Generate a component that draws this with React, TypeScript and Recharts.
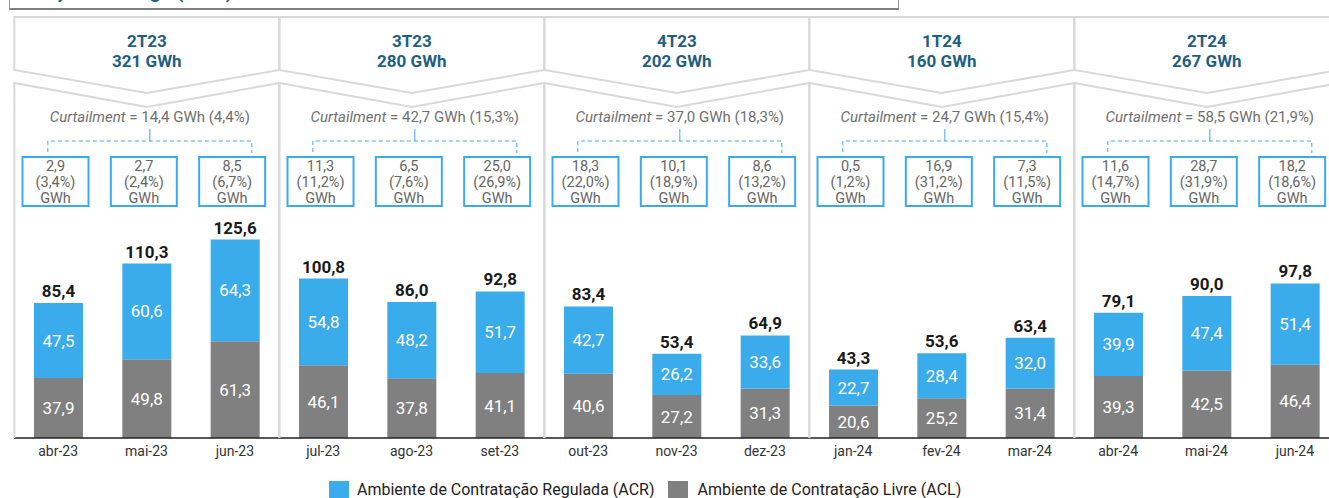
import { BarChart, Bar, XAxis, YAxis, LabelList } from 'recharts';

const months = [
  'abr-23', 'mai-23', 'jun-23', 'jul-23', 'ago-23', 'set-23', 'out-23', 'nov-23',
  'dez-23', 'jan-24', 'fev-24', 'mar-24', 'abr-24', 'mai-24', 'jun-24',
];
const acr = [47.5, 60.6, 64.3, 54.8, 48.2, 51.7, 42.7, 26.2, 33.6, 22.7, 28.4, 32.0, 39.9, 47.4, 51.4];
const acl = [37.9, 49.8, 61.3, 46.1, 37.8, 41.1, 40.6, 27.2, 31.3, 20.6, 25.2, 31.4, 39.3, 42.5, 46.4];
const totals = [85.4, 110.3, 125.6, 100.8, 86.0, 92.8, 83.4, 53.4, 64.9, 43.3, 53.6, 63.4, 79.1, 90.0, 97.8];
const curtGwh = [2.9, 2.7, 8.5, 11.3, 6.5, 25.0, 18.3, 10.1, 8.6, 0.5, 16.9, 7.3, 11.6, 28.7, 18.2];
const curtPct = [3.4, 2.4, 6.7, 11.2, 7.6, 26.9, 22.0, 18.9, 13.2, 1.2, 31.2, 11.5, 14.7, 31.9, 18.6];

const quarters = ['2T23', '3T23', '4T23', '1T24', '2T24'];
const quarterGwh = [321, 280, 202, 160, 267];
const quarterCurt = [14.4, 42.7, 37.0, 24.7, 58.5];
const quarterCurtPct = [4.4, 15.3, 18.3, 15.4, 21.9];

const BLUE = '#3aabeb';
const GRAY = '#808080';
const TEAL = '#1f5f82';
const FRAME = '#d9d9d9';

const CHART_W = 1340;
const CHART_H = 498;
const MARGIN = { top: 122, right: 1, bottom: 30, left: 14 };
const BAND = (CHART_W - MARGIN.left - MARGIN.right) / months.length;

const fmt = (v: any) => Number(v).toFixed(1).replace('.', ',');

const data = months.map((m, i) => ({
  month: m,
  acl: acl[i],
  acr: acr[i],
  total: totals[i],
  row: i,
  // quarter index on the middle month of each quarter, -1 elsewhere
  quarter: i % 3 === 1 ? Math.floor(i / 3) : -1,
}));

function QuarterFrame(props: any) {
  const q = Number(props.value);
  if (!(q >= 0)) return null;
  const vb = props.viewBox || props;
  const cx = vb.x + vb.width / 2;
  const L = cx - 1.5 * BAND;
  const R = cx + 1.5 * BAND;
  const tx = cx + 3;
  return (
    <g>
      <polygon points={`${L},17 ${R},17 ${R},70 ${cx},93 ${L},70`} fill="none" stroke={FRAME} strokeWidth={2} />
      <polyline points={`${L},438 ${L},83 ${cx},107 ${R},83 ${R},438`} fill="none" stroke={FRAME} strokeWidth={2} />
      <text x={cx} y={47} textAnchor="middle" fontWeight={700} fontSize={17} fill={TEAL}>
        {quarters[q]}
      </text>
      <text x={cx} y={67} textAnchor="middle" fontWeight={700} fontSize={17} fill={TEAL}>
        {quarterGwh[q]} GWh
      </text>
      <text x={tx} y={122} textAnchor="middle" fontSize={15} fill="#707070">
        <tspan fontStyle="italic">Curtailment</tspan>
        <tspan>{` = ${fmt(quarterCurt[q])} GWh (${fmt(quarterCurtPct[q])}%)`}</tspan>
      </text>
      <g fill="none" stroke={BLUE} strokeWidth={1} strokeDasharray="4 3">
        <path d={`M${tx - 102},152 L${tx - 102},141 L${tx + 102},141 L${tx + 102},153`} />
        <path d={`M${tx},129 L${tx},141`} strokeDasharray="none" />
      </g>
    </g>
  );
}

function CurtBox(props: any) {
  const i = Number(props.value);
  if (!(i >= 0)) return null;
  const vb = props.viewBox || props;
  const cx = vb.x + vb.width / 2 - 3;
  return (
    <g>
      <rect x={cx - 33} y={157} width={66} height={49} fill="#fff" stroke={BLUE} strokeWidth={2} />
      <g fontSize={14.5} fill="#666" textAnchor="middle">
        <text x={cx} y={171}>{fmt(curtGwh[i])}</text>
        <text x={cx} y={187}>({fmt(curtPct[i])}%)</text>
        <text x={cx} y={203}>GWh</text>
      </g>
    </g>
  );
}

export default function App() {
  return (
    <div
      style={{
        position: 'relative',
        width: 1329,
        height: 498,
        overflow: 'hidden',
        fontFamily: 'Roboto, sans-serif',
        background: '#fff',
      }}
    >
      <style>{'body{margin:0;overflow:hidden}'}</style>

      {/* title box, mostly cut off at the top */}
      <div
        style={{
          position: 'absolute',
          left: 9,
          top: -40,
          width: 888,
          height: 48,
          borderLeft: '1px solid #999',
          borderRight: '1px solid #999',
          borderBottom: '2px solid #808080',
          overflow: 'hidden',
        }}
      >
        <div style={{ position: 'absolute', left: -2, top: 19, fontSize: 20, fontWeight: 700, color: TEAL, whiteSpace: 'nowrap' }}>
          Redução de Carga (GWh)
        </div>
      </div>

      <BarChart width={CHART_W} height={CHART_H} data={data} margin={MARGIN}>
        <XAxis
          dataKey="month"
          interval={0}
          tickLine={false}
          axisLine={{ stroke: '#222', strokeWidth: 1.5 }}
          tick={{ fill: '#333', fontSize: 14 }}
          height={30}
        />
        <YAxis hide domain={[0, 200]} />
        <Bar dataKey="acl" stackId="a" fill={GRAY} barSize={49} isAnimationActive={false}>
          <LabelList dataKey="acl" position="center" fill="#fff" fontSize={17} formatter={fmt} />
          <LabelList dataKey="quarter" content={QuarterFrame} />
        </Bar>
        <Bar dataKey="acr" stackId="a" fill={BLUE} barSize={49} isAnimationActive={false}>
          <LabelList dataKey="acr" position="center" fill="#fff" fontSize={17} formatter={fmt} />
          <LabelList dataKey="total" position="top" offset={6} fill="#1a1a1a" fontSize={17} fontWeight={700} formatter={fmt} />
          <LabelList dataKey="row" content={CurtBox} />
        </Bar>
      </BarChart>

      {/* legend */}
      <div
        style={{
          position: 'absolute',
          left: 329,
          top: 480,
          display: 'flex',
          alignItems: 'center',
          fontSize: 16,
          color: '#222',
          whiteSpace: 'nowrap',
        }}
      >
        <span style={{ width: 20, height: 18, background: BLUE, display: 'inline-block', marginRight: 8 }} />
        <span style={{ marginRight: 14 }}>Ambiente de Contratação Regulada (ACR)</span>
        <span style={{ width: 20, height: 18, background: GRAY, display: 'inline-block', marginRight: 9 }} />
        <span>Ambiente de Contratação Livre (ACL)</span>
      </div>
    </div>
  );
}
